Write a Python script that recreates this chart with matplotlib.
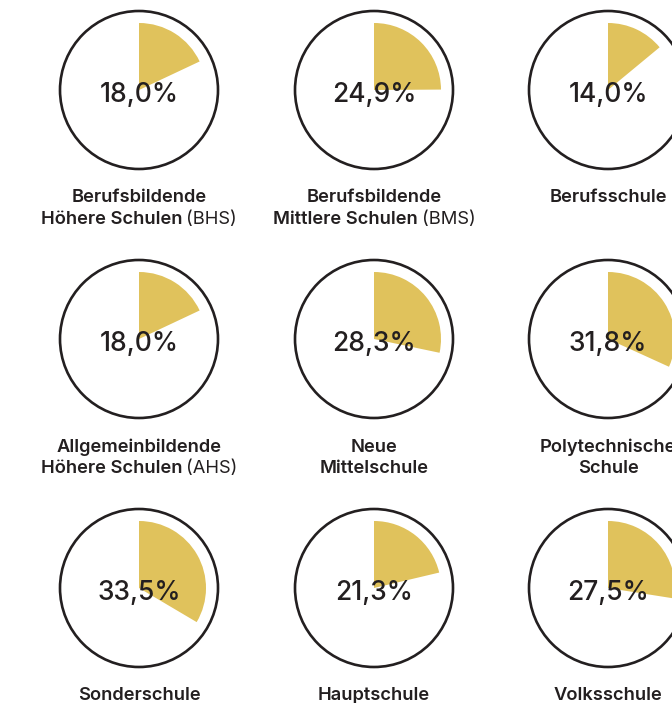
import matplotlib
matplotlib.use("Agg")
import matplotlib.pyplot as plt
from matplotlib.patches import Circle

# values per school type (share in %)
values = [18.0, 24.9, 14.0, 18.0, 28.3, 31.8, 33.5, 21.3, 27.5]
bold_lines = [
    ["Berufsbildende", "Höhere Schulen"],
    ["Berufsbildende", "Mittlere Schulen"],
    ["Berufsschule"],
    ["Allgemeinbildende", "Höhere Schulen"],
    ["Neue", "Mittelschule"],
    ["Polytechnische", "Schule"],
    ["Sonderschule"],
    ["Hauptschule"],
    ["Volksschule"],
]
suffixes = ["(BHS)", "(BMS)", "", "(AHS)", "", "", "", "", ""]

gold = "#e0c25c"
dark = "#231f20"
font = "Inter"

W, H = 672, 703
col_x = [139, 374, 608]
row_y = [90, 339, 588]
r_out = 79
r_in = 67

fig = plt.figure(figsize=(W / 100, H / 100), dpi=100, facecolor="w")
ax = fig.add_axes([0, 0, 1, 1])

for i, v in enumerate(values):
    cx = col_x[i % 3]
    cy = H - row_y[i // 3]
    ax.add_patch(Circle((cx, cy), r_out, facecolor="white", edgecolor=dark,
                        linewidth=1.9, zorder=1))
    ax.pie([v, 100 - v], colors=[gold, "none"], startangle=90,
           counterclock=False, center=(cx, cy), radius=r_in,
           wedgeprops=dict(linewidth=0, zorder=2), frame=True)
    ax.text(cx, cy - 5, f"{v:.1f}".replace(".", ",") + "%", ha="center",
            va="center", fontsize=19, family=font, weight="medium",
            color=dark, zorder=3)

ax.set_xlim(0, W)
ax.set_ylim(0, H)
ax.set_aspect("equal")
ax.axis("off")

renderer = fig.canvas.get_renderer()
for i, lines in enumerate(bold_lines):
    cx = col_x[i % 3]
    base = H - row_y[i // 3] - 108
    for j, line in enumerate(lines):
        y = base - 21.5 * j
        last = j == len(lines) - 1
        if last and suffixes[i]:
            tb = ax.text(0, y, line, ha="left", va="center", fontsize=13.2,
                         family=font, weight="semibold", color=dark)
            tr = ax.text(0, y, suffixes[i], ha="left", va="center",
                         fontsize=13.2, family=font, weight="normal",
                         color=dark)
            wb = tb.get_window_extent(renderer).width
            wr = tr.get_window_extent(renderer).width
            gap = 4
            x0 = cx - (wb + gap + wr) / 2
            tb.set_x(x0)
            tr.set_x(x0 + wb + gap)
        else:
            ax.text(cx, y, line, ha="center", va="center", fontsize=13.2,
                    family=font, weight="semibold", color=dark)

fig.savefig("out.png", dpi=100, facecolor="w")
